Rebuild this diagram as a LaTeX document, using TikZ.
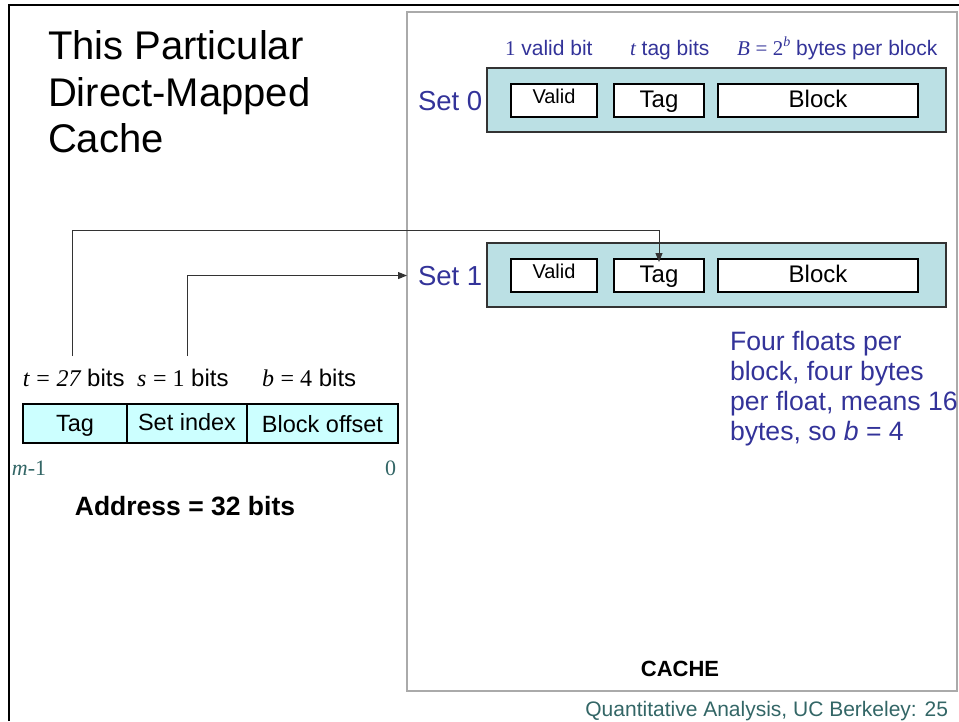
\documentclass[tikz,border=0pt]{standalone}
\usepackage{fontspec}
\setmainfont{Liberation Sans}
\newfontfamily\tms{Liberation Serif}
\usetikzlibrary{arrows.meta}
\newcommand\fs[1]{\fontsize{#1}{#1}\selectfont}

\definecolor{setblue}{RGB}{51,51,153}
\definecolor{footteal}{RGB}{51,102,102}
\definecolor{linefill}{RGB}{187,224,228}
\definecolor{fieldfill}{RGB}{204,255,255}
\definecolor{framegray}{RGB}{170,170,170}

\tikzset{
  every node/.style={inner sep=0pt, outer sep=0pt},
  cacheline/.style={draw=black!80, line width=1.2pt, fill=linefill, minimum height=64pt},
  cell/.style={draw=black, line width=1.1pt, fill=white, minimum height=33pt,
               font=\fs{24}, text height=14pt, text depth=0pt},
  validcell/.style={cell, font=\fs{20}, text height=5pt},
  field/.style={draw=black, line width=1.2pt, fill=fieldfill, minimum height=39pt,
               font=\fs{23.5}, text height=16pt, text depth=0pt},
  bluetxt/.style={text=setblue},
  link/.style={draw=black!80, line width=1pt, -{Triangle[length=9pt,width=7pt]}},
}

\begin{document}
\begin{tikzpicture}[x=1pt,y=-1pt]
\useasboundingbox (0,0) rectangle (959,721);

% slide frame
\draw[line width=2.5pt] (9,721) -- (9,5) -- (959,5);

% cache outline
\node[draw=framegray, line width=1.2pt, minimum width=550pt, minimum height=679pt] (cache) at (682,351.5) {};

% title
\node[anchor=base west, font=\fs{40}] (title1) at (48,59) {This Particular};
\node[anchor=base west, font=\fs{40}] (title2) at (48,106) {Direct-Mapped};
\node[anchor=base west, font=\fs{40}] (title3) at (48,152) {Cache};

% column headings
\node[anchor=base west, bluetxt, font=\fs{21}] (hvalid) at (505,55) {{\tms 1} valid bit};
\node[anchor=base west, bluetxt, font=\fs{21}] (htag) at (630,55) {{\tms\itshape t} tag bits};
\node[anchor=base west, bluetxt, font=\fs{21}] (hblock) at (737,55)
  {{\tms\itshape B} {\tms = 2}\raisebox{0.42em}{\fs{14}\tms\itshape b} bytes per block};

% set 0
\node[anchor=base west, bluetxt, font=\fs{27.5}] (set0lab) at (418,110) {Set 0};
\node[cacheline, minimum width=459pt] (set0) at (716.5,100) {};
\node[validcell, minimum width=86pt] (valid0) at (554,100.5) {Valid};
\node[cell, minimum width=90pt] (tag0) at (659,100.5) {Tag};
\node[cell, minimum width=200pt] (block0) at (818,100.5) {Block};

% set 1
\node[anchor=base west, bluetxt, font=\fs{27.5}] (set1lab) at (418,285) {Set 1};
\node[cacheline, minimum width=459pt] (set1) at (716.5,275) {};
\node[validcell, minimum width=86pt] (valid1) at (554,275.5) {Valid};
\node[cell, minimum width=90pt] (tag1) at (659,275.5) {Tag};
\node[cell, minimum width=200pt] (block1) at (818,275.5) {Block};

% field widths
\node[anchor=base west, font=\fs{24}] (tbits) at (23,386)
  {{\tms\itshape t} {\tms =} {\tms\itshape 27} bits};
\node[anchor=base west, font=\fs{24}] (sbits) at (137,386)
  {{\tms\itshape s} {\tms = 1} bits};
\node[anchor=base west, font=\fs{24}] (bbits) at (262,386)
  {{\tms\itshape b} {\tms = 4} bits};

% address fields
\node[field, minimum width=104pt] (ftag) at (75,423.5) {Tag};
\node[field, minimum width=120pt, text height=13pt] (fset) at (187,423.5) {Set index};
\node[field, minimum width=151pt, text height=18pt] (foff) at (322.5,423.5) {Block offset};

\node[anchor=base west, text=footteal, font=\fs{22}] (msb) at (12,475) {{\tms\itshape m}{\tms -1}};
\node[anchor=base east, text=footteal, font=\fs{22}] (lsb) at (396,475) {\tms 0};

\node[anchor=base, font=\bfseries\fs{26.5}] (addr) at (185,515) {Address = 32 bits};

% connectors from the address to the cache
\coordinate (tagsrc) at (72,356);
\coordinate (setsrc) at (187,356);
\draw[link] (tagsrc) -- (tagsrc |- 0,230) -- (tag1.north |- 0,230) -- ([yshift=-3pt]tag1.north);
\draw[link] (setsrc) |- (cache.west |- set1lab.center);

% note
\node[anchor=base west, bluetxt, font=\fs{26.6}] (note1) at (730,350) {Four floats per};
\node[anchor=base west, bluetxt, font=\fs{26.6}] (note2) at (730,380) {block, four bytes};
\node[anchor=base west, bluetxt, font=\fs{26.6}] (note3) at (730,410) {per float, means 16};
\node[anchor=base west, bluetxt, font=\fs{26.6}] (note4) at (730,440) {bytes, so \textit{b} = 4};

\node[anchor=base, font=\bfseries\fs{22}] (cachelab) at (680,676) {CACHE};

\node[anchor=base east, text=footteal, font=\fs{21}] (footer) at (948,716) {Quantitative Analysis, UC Berkeley: 25};
\end{tikzpicture}
\end{document}
